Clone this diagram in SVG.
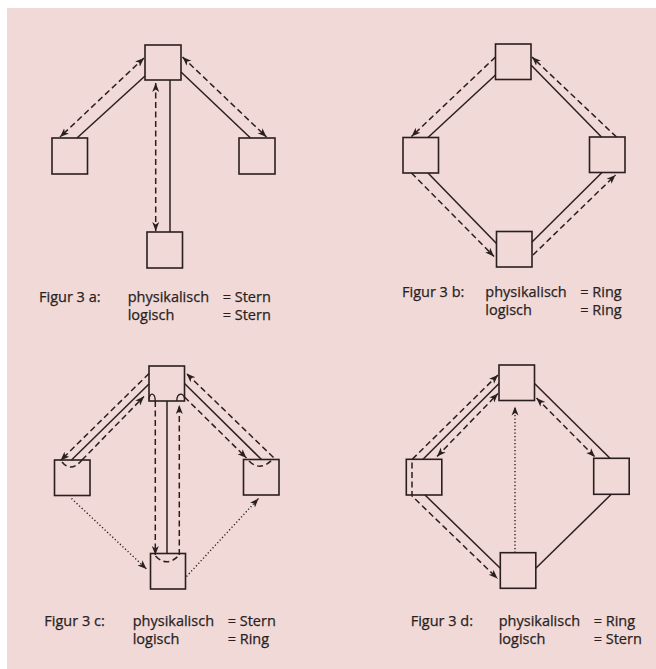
<svg xmlns="http://www.w3.org/2000/svg" width="656" height="669" viewBox="0 0 656 669">
  <defs>
    <marker id="arrow" markerUnits="userSpaceOnUse" markerWidth="11" markerHeight="9" refX="9" refY="4.5" orient="auto-start-reverse">
      <path d="M0,1 L9,4.5 L0,8 L2.4,4.5 z" fill="#2a1f1f"/>
    </marker>
    <style>
      .node rect { fill: none; stroke: #2a1f1f; stroke-width: 1.6; }
      .solid { fill: none; stroke: #2a1f1f; stroke-width: 1.5; }
      .dash { fill: none; stroke: #2a1f1f; stroke-width: 1.5; stroke-dasharray: 6 3.5; }
      .dot { fill: none; stroke: #2a1f1f; stroke-width: 1.4; stroke-dasharray: 1.2 2.3; }
      .thin { fill: none; stroke: #2a1f1f; stroke-width: 1.3; }
      .end { marker-end: url(#arrow); }
      .both { marker-start: url(#arrow); marker-end: url(#arrow); }
      text { font-family: "Open Sans", "Noto Sans", "Liberation Sans", sans-serif; font-size: 14.5px; fill: #2a1f1f; stroke: #2a1f1f; stroke-width: 0.25; }
    </style>
  </defs>

  <!-- page background -->
  <rect x="0" y="0" width="656" height="669" fill="#ffffff"/>
  <rect x="7" y="8" width="649" height="661" fill="#f0d9d6"/>

  <!-- Figur 3a: star / star -->
  <g id="fig3a">
    <g id="a-top" class="node"><rect x="145" y="45" width="36" height="35"/></g>
    <g id="a-left" class="node"><rect x="52" y="138" width="35.5" height="36"/></g>
    <g id="a-right" class="node"><rect x="239" y="138" width="36" height="36"/></g>
    <g id="a-bottom" class="node"><rect x="147" y="232" width="35.5" height="36"/></g>
    <g id="a-connectors">
      <path class="solid" d="M145,76 L77,138"/>
      <path class="dash both" d="M144,58 L60,137"/>
      <path class="solid" d="M181,72 L250.5,138"/>
      <path class="dash both" d="M182.5,57 L266.5,137"/>
      <path class="solid" d="M170,80 L170,232"/>
      <path class="dash both" d="M155.7,83 L155.7,231"/>
    </g>
    <text x="39" y="301.5">Figur 3 a:</text>
    <text x="127.7" y="301.5">physikalisch</text>
    <text x="222.7" y="301.5">= Stern</text>
    <text x="127.7" y="319.5">logisch</text>
    <text x="222.7" y="319.5">= Stern</text>
  </g>

  <!-- Figur 3b: ring / ring -->
  <g id="fig3b">
    <g id="b-top" class="node"><rect x="495.5" y="44" width="35.5" height="35.5"/></g>
    <g id="b-left" class="node"><rect x="403" y="137.5" width="35.5" height="35.5"/></g>
    <g id="b-right" class="node"><rect x="589.5" y="137" width="35.5" height="35.5"/></g>
    <g id="b-bottom" class="node"><rect x="496.5" y="231.5" width="35.5" height="35.5"/></g>
    <g id="b-connectors">
      <path class="solid" d="M495.5,75 L428,137.5"/>
      <path class="dash end" d="M495.5,57 L411.5,136.5"/>
      <path class="solid" d="M531,65 L601.5,137"/>
      <path class="dash end" d="M616.5,137 L532,57"/>
      <path class="solid" d="M428,173 L496.5,243.5"/>
      <path class="dash end" d="M411.5,173 L494,256.5"/>
      <path class="solid" d="M532,242 L602,172.5"/>
      <path class="dash end" d="M533,255 L615.5,175"/>
    </g>
    <text x="402" y="297">Figur 3 b:</text>
    <text x="485.3" y="297">physikalisch</text>
    <text x="580.3" y="297">= Ring</text>
    <text x="485.3" y="315">logisch</text>
    <text x="580.3" y="315">= Ring</text>
  </g>

  <!-- Figur 3c: physical star, logical ring -->
  <g id="fig3c">
    <g id="c-top" class="node"><rect x="149" y="366" width="35.5" height="35"/></g>
    <g id="c-left" class="node"><rect x="54.5" y="460" width="35.5" height="35.5"/></g>
    <g id="c-right" class="node"><rect x="243.5" y="459.5" width="35.5" height="35.5"/></g>
    <g id="c-bottom" class="node"><rect x="150.5" y="553.5" width="35" height="35.5"/></g>
    <g id="c-connectors">
      <path class="dash end" d="M149,373.5 L60.5,460.5"/>
      <path class="solid" d="M149,384 L71.5,460"/>
      <path class="dash end" d="M82,460 L144,396.5"/>
      <path class="dash" d="M62,462 Q71,473 82,460"/>
      <path class="thin" d="M149,399.5 C149.5,392 155,392 155.3,401"/>
      <path class="dash end" d="M155.3,401 L155.3,555"/>
      <path class="dash" d="M155.5,556 Q167,568 179.3,555"/>
      <path class="dash end" d="M179.3,555 L179.3,405"/>
      <path class="thin" d="M176.8,401 C176.8,392.5 183.5,392.5 184.5,398"/>
      <path class="solid" d="M167,401 L167,553.5"/>
      <path class="dash end" d="M184.5,397 L246.5,458"/>
      <path class="dash" d="M249,461 Q260,472 272.5,459.5"/>
      <path class="dash end" d="M273.5,457.5 L186.5,373.5"/>
      <path class="solid" d="M184.5,383.5 L261.5,459.5"/>
      <path class="dot end" d="M71.5,498.5 L146.5,569"/>
      <path class="dot end" d="M186.5,576.5 L258.5,498.5"/>
    </g>
    <text x="44.3" y="626">Figur 3 c:</text>
    <text x="132.7" y="626">physikalisch</text>
    <text x="227.7" y="626">= Stern</text>
    <text x="132.7" y="643.5">logisch</text>
    <text x="227.7" y="643.5">= Ring</text>
  </g>

  <!-- Figur 3d: physical ring, logical star -->
  <g id="fig3d">
    <g id="d-top" class="node"><rect x="499" y="365" width="35.5" height="35.5"/></g>
    <g id="d-left" class="node"><rect x="406.3" y="459.3" width="35.5" height="35.7"/></g>
    <g id="d-right" class="node"><rect x="593.7" y="458.3" width="35.5" height="36"/></g>
    <g id="d-bottom" class="node"><rect x="500.3" y="552.7" width="35.5" height="35.6"/></g>
    <g id="d-connectors">
      <path class="dash both" d="M498,375 L412,459.5 L412,496 L497.5,578.5"/>
      <path class="solid" d="M423,459.3 L499,383.5"/>
      <path class="dash both" d="M437,456.5 L498,393.5"/>
      <path class="solid" d="M534.5,383.5 L610,458.3"/>
      <path class="dash both" d="M536.5,398 L595,457"/>
      <path class="solid" d="M425,495 L500.3,568.3"/>
      <path class="solid" d="M535.8,568.3 L611.3,494.3"/>
      <path class="dot end" d="M515,552.7 L515,406.5"/>
    </g>
    <text x="410.7" y="626">Figur 3 d:</text>
    <text x="498.7" y="626">physikalisch</text>
    <text x="593.7" y="626">= Ring</text>
    <text x="498.7" y="643.5">logisch</text>
    <text x="593.7" y="643.5">= Stern</text>
  </g>
</svg>
